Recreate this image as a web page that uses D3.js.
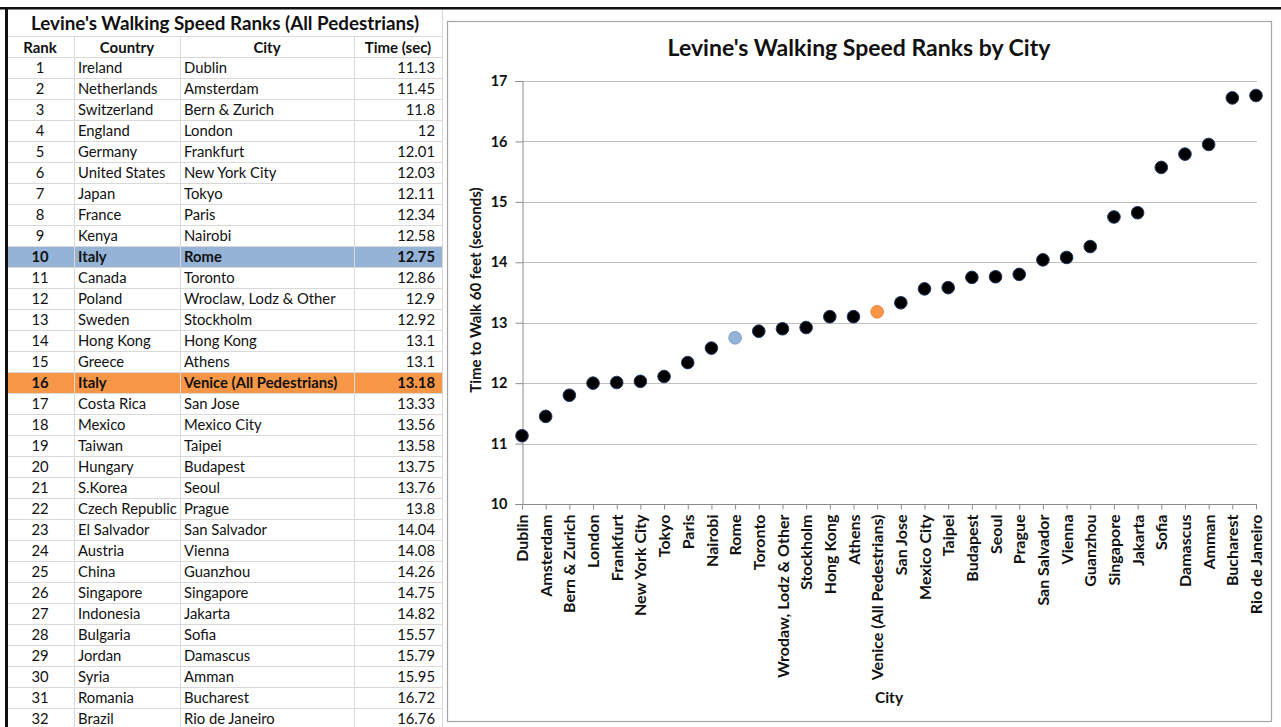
<!DOCTYPE html>
<html>
<head>
<meta charset="utf-8">
<script src="https://cdn.jsdelivr.net/npm/d3@7"></script>
<style>
  html, body { margin: 0; padding: 0; background: #fff; }
  svg { display: block; }
  text { font-family: Lato, "Open Sans", sans-serif; }
</style>
</head>
<body>
<svg id="chart" width="1281" height="727"></svg>
<script>
// ---- Data ----
const ranks = [1,2,3,4,5,6,7,8,9,10,11,12,13,14,15,16,17,18,19,20,21,22,23,24,25,26,27,28,29,30,31,32];
const countries = ["Ireland","Netherlands","Switzerland","England","Germany","United States","Japan","France","Kenya","Italy","Canada","Poland","Sweden","Hong Kong","Greece","Italy","Costa Rica","Mexico","Taiwan","Hungary","S.Korea","Czech Republic","El Salvador","Austria","China","Singapore","Indonesia","Bulgaria","Jordan","Syria","Romania","Brazil"];
const cities = ["Dublin","Amsterdam","Bern & Zurich","London","Frankfurt","New York City","Tokyo","Paris","Nairobi","Rome","Toronto","Wroclaw, Lodz & Other","Stockholm","Hong Kong","Athens","Venice (All Pedestrians)","San Jose","Mexico City","Taipei","Budapest","Seoul","Prague","San Salvador","Vienna","Guanzhou","Singapore","Jakarta","Sofia","Damascus","Amman","Bucharest","Rio de Janeiro"];
const chartCities = ["Dublin","Amsterdam","Bern & Zurich","London","Frankfurt","New York City","Tokyo","Paris","Nairobi","Rome","Toronto","Wrodaw, Lodz & Other","Stockholm","Hong Kong","Athens","Venice (All Pedestrians)","San Jose","Mexico City","Taipei","Budapest","Seoul","Prague","San Salvador","Vienna","Guanzhou","Singapore","Jakarta","Sofia","Damascus","Amman","Bucharest","Rio de Janeiro"];
const timesText = ["11.13","11.45","11.8","12","12.01","12.03","12.11","12.34","12.58","12.75","12.86","12.9","12.92","13.1","13.1","13.18","13.33","13.56","13.58","13.75","13.76","13.8","14.04","14.08","14.26","14.75","14.82","15.57","15.79","15.95","16.72","16.76"];
const times = [11.13,11.45,11.8,12,12.01,12.03,12.11,12.34,12.58,12.75,12.86,12.9,12.92,13.1,13.1,13.18,13.33,13.56,13.58,13.75,13.76,13.8,14.04,14.08,14.26,14.75,14.82,15.57,15.79,15.95,16.72,16.76];
const yTicks = [10,11,12,13,14,15,16,17];
const highlightRank = {10: "rome", 16: "venice"};
const tableTitle = "Levine's Walking Speed Ranks (All Pedestrians)";
const headers = ["Rank","Country","City","Time (sec)"];
const chartTitle = "Levine's Walking Speed Ranks by City";
const yTitle = "Time to Walk 60 feet (seconds)";
const xTitle = "City";

const svg = d3.select("#chart");

// ---- Table ----
const tbl = svg.append("g");
const colX = [8, 74, 180, 354, 442];
const rowTop = 57, rowH = 21;
const fills = {rome: "#95B3D7", venice: "#F79646"};
const gridC = "#d9d9d9";
const bodyFS = 14.8;

ranks.forEach((r, i) => {
  if (highlightRank[r]) {
    tbl.append("rect").attr("x", colX[0]).attr("y", rowTop + i*rowH)
      .attr("width", colX[4]-colX[0]).attr("height", rowH)
      .attr("fill", fills[highlightRank[r]]);
  }
});
for (let i = 0; i <= ranks.length; i++) {
  tbl.append("line").attr("x1", colX[0]).attr("x2", colX[4])
    .attr("y1", rowTop + i*rowH + 0.5).attr("y2", rowTop + i*rowH + 0.5)
    .attr("stroke", gridC);
}
tbl.append("line").attr("x1", colX[0]).attr("x2", colX[4])
  .attr("y1", 36.5).attr("y2", 36.5).attr("stroke", gridC);
colX.slice(1).forEach(x => {
  tbl.append("line").attr("x1", x+0.5).attr("x2", x+0.5)
    .attr("y1", 36).attr("y2", 727).attr("stroke", gridC);
});
tbl.append("line").attr("x1", colX[4]+0.5).attr("x2", colX[4]+0.5)
  .attr("y1", 9).attr("y2", 36).attr("stroke", gridC);

tbl.append("text").attr("x", 225).attr("y", 29.5)
  .attr("text-anchor", "middle").attr("font-weight", "bold").attr("font-size", 18.8)
  .attr("fill", "#111").text(tableTitle);

const hdrX = [40, 127, 267, 398];
headers.forEach((h, j) => {
  tbl.append("text").attr("x", hdrX[j]).attr("y", 52.5)
    .attr("text-anchor", "middle").attr("font-weight", "bold").attr("font-size", 15)
    .attr("fill", "#111").text(h);
});

ranks.forEach((r, i) => {
  const y = rowTop + i*rowH + 16;
  const bold = highlightRank[r] ? "bold" : "normal";
  const g = tbl.append("g").attr("font-size", bodyFS).attr("fill", "#111").attr("font-weight", bold);
  g.append("text").attr("x", 40).attr("y", y).attr("text-anchor", "middle").text(r);
  g.append("text").attr("x", 78).attr("y", y).text(countries[i]);
  g.append("text").attr("x", 184).attr("y", y).text(cities[i]);
  g.append("text").attr("x", 435).attr("y", y).attr("text-anchor", "end").text(timesText[i]);
});

// outer black borders
svg.append("rect").attr("x", 0).attr("y", 7).attr("width", 1281).attr("height", 2.5).attr("fill", "#111");
svg.append("rect").attr("x", 5).attr("y", 7).attr("width", 3).attr("height", 720).attr("fill", "#111");

// ---- Chart ----
svg.append("rect").attr("x", 447.5).attr("y", 21.5).attr("width", 824).attr("height", 700)
  .attr("fill", "#fff").attr("stroke", "#a6a6a6").attr("stroke-width", 1.2);

const x = d3.scalePoint().domain(chartCities).range([522, 1256]);
const y = d3.scaleLinear().domain([10, 17]).range([504, 81]);

svg.append("text").attr("x", 859).attr("y", 56).attr("text-anchor", "middle")
  .attr("font-weight", "bold").attr("font-size", 23).attr("fill", "#111").text(chartTitle);

svg.append("g").selectAll("line").data(yTicks.filter(t => t > 10)).join("line")
  .attr("x1", 522).attr("x2", 1257)
  .attr("y1", d => Math.round(y(d)) + 0.5).attr("y2", d => Math.round(y(d)) + 0.5)
  .attr("stroke", "#bfbfbf").attr("stroke-width", 1.2);

const yAxis = svg.append("g").attr("transform", "translate(522.5,0)")
  .call(d3.axisLeft(y).tickValues(yTicks).tickSize(7).tickPadding(8).tickFormat(d3.format("d")));
yAxis.select(".domain").attr("stroke", "#8c8c8c");
yAxis.selectAll(".tick line").attr("stroke", "#8c8c8c");
yAxis.selectAll(".tick text").attr("font-family", "Lato, sans-serif").attr("font-size", 14.5)
  .attr("font-weight", "bold").attr("fill", "#111");

const xAxis = svg.append("g").attr("transform", "translate(0,504.5)")
  .call(d3.axisBottom(x).tickSize(5).tickSizeOuter(0).tickPadding(0));
xAxis.select(".domain").attr("stroke", "#8c8c8c").attr("d", "M522,0H1257");
xAxis.selectAll(".tick line").attr("stroke", "#8c8c8c");
xAxis.selectAll(".tick text")
  .attr("font-family", "Lato, sans-serif").attr("font-size", 16).attr("font-weight", "bold").attr("fill", "#111")
  .attr("text-anchor", "end").attr("transform", "rotate(-90)")
  .attr("x", -10).attr("y", 0).attr("dy", "0.35em");

svg.append("text").attr("transform", "translate(481,290) rotate(-90)")
  .attr("text-anchor", "middle").attr("font-weight", "bold").attr("font-size", 15)
  .attr("fill", "#111").text(yTitle);
svg.append("text").attr("x", 889).attr("y", 703).attr("text-anchor", "middle")
  .attr("font-weight", "bold").attr("font-size", 15.5).attr("fill", "#111").text(xTitle);

const ptFill = r => highlightRank[r] === "rome" ? "#95B3D7" : highlightRank[r] === "venice" ? "#F79646" : "#000";
const ptStroke = r => highlightRank[r] === "rome" ? "#7d9cc8" : highlightRank[r] === "venice" ? "#e9853a" : "#1f3864";
svg.append("g").selectAll("circle").data(ranks).join("circle")
  .attr("cx", (r, i) => x(chartCities[i]))
  .attr("cy", (r, i) => y(times[i]))
  .attr("r", 6.3)
  .attr("fill", r => ptFill(r))
  .attr("stroke", r => ptStroke(r)).attr("stroke-width", 1);
</script>
</body>
</html>
